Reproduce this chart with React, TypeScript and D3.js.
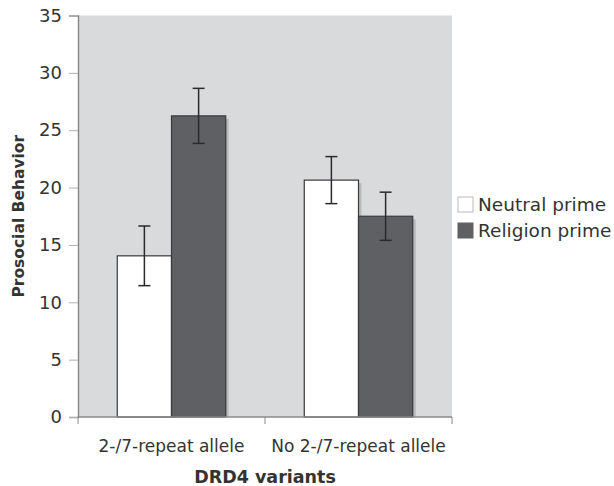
import React, { useRef, useEffect } from "react";
import * as d3 from "d3";

const categories = ["2-/7-repeat allele", "No 2-/7-repeat allele"];
const seriesNames = ["Neutral prime", "Religion prime"];
const seriesColors = ["#ffffff", "#5f6064"];
const neutralValues = [14.05, 20.65];
const religionValues = [26.25, 17.5];
const neutralErrors = [2.6, 2.05];
const religionErrors = [2.4, 2.1];
const yTicks = [0, 5, 10, 15, 20, 25, 30, 35];

const App = () => {
  const ref = useRef<SVGSVGElement>(null);

  useEffect(() => {
    const svg = d3.select(ref.current);
    svg.selectAll("*").remove();

    const margin = { top: 15.5, right: 162, bottom: 69, left: 78 };
    const width = 614 - margin.left - margin.right;
    const height = 486 - margin.top - margin.bottom;
    const font = "Verdana, 'DejaVu Sans', sans-serif";

    const g = svg
      .append("g")
      .attr("transform", `translate(${margin.left},${margin.top})`);

    const x0 = d3.scaleBand().domain(categories).range([0, width]).paddingInner(0.42).paddingOuter(0.21);
    const x1 = d3.scaleBand().domain(seriesNames).range([0, x0.bandwidth()]);
    const y = d3.scaleLinear().domain([0, 35]).range([height, 0]);

    g.append("rect")
      .attr("width", width)
      .attr("height", height)
      .attr("fill", "#d9dadc");

    const data = categories.map((c, i) => ({
      cat: c,
      vals: [
        { s: seriesNames[0], v: neutralValues[i], e: neutralErrors[i], c: seriesColors[0] },
        { s: seriesNames[1], v: religionValues[i], e: religionErrors[i], c: seriesColors[1] },
      ],
    }));

    const groups = g
      .selectAll(".grp")
      .data(data)
      .enter()
      .append("g")
      .attr("transform", (d) => `translate(${x0(d.cat)},0)`);

    // shadows
    groups
      .selectAll(".shadow")
      .data((d) => d.vals)
      .enter()
      .append("rect")
      .attr("x", (d) => x1(d.s)! + 3)
      .attr("y", (d) => y(d.v) + 3)
      .attr("width", x1.bandwidth())
      .attr("height", (d) => height - y(d.v) - 3)
      .attr("fill", "#b9babc");

    groups
      .selectAll(".bar")
      .data((d) => d.vals)
      .enter()
      .append("rect")
      .attr("x", (d) => x1(d.s)!)
      .attr("y", (d) => y(d.v))
      .attr("width", x1.bandwidth())
      .attr("height", (d) => height - y(d.v))
      .attr("fill", (d) => d.c)
      .attr("stroke", "#3a3a3c")
      .attr("stroke-width", 1.2);

    const err = groups
      .selectAll(".err")
      .data((d) => d.vals)
      .enter()
      .append("g")
      .attr("stroke", "#2a2a2c")
      .attr("stroke-width", 1.5);
    const cx = (d: any) => x1(d.s)! + x1.bandwidth() / 2;
    err.append("line")
      .attr("x1", cx).attr("x2", cx)
      .attr("y1", (d) => y(d.v + d.e)).attr("y2", (d) => y(d.v - d.e));
    err.append("line")
      .attr("x1", (d) => cx(d) - 6).attr("x2", (d) => cx(d) + 6)
      .attr("y1", (d) => y(d.v + d.e)).attr("y2", (d) => y(d.v + d.e));
    err.append("line")
      .attr("x1", (d) => cx(d) - 6).attr("x2", (d) => cx(d) + 6)
      .attr("y1", (d) => y(d.v - d.e)).attr("y2", (d) => y(d.v - d.e));

    // y axis
    const yAxis = g.append("g").call(d3.axisLeft(y).tickValues(yTicks).tickSize(9).tickPadding(7));
    yAxis.select(".domain").attr("stroke", "#8a8a8a").attr("stroke-width", 1.5);
    yAxis.selectAll(".tick line").attr("stroke", "#b0b0b0");
    yAxis.selectAll("text").attr("fill", "#333").style("font-size", "18px").style("font-family", font);

    // x axis
    const xg = g.append("g").attr("transform", `translate(0,${height})`);
    xg.append("line").attr("x1", 0).attr("x2", width).attr("stroke", "#8a8a8a").attr("stroke-width", 1.5);
    [0, width / 2, width].forEach((t) => {
      xg.append("line").attr("x1", t).attr("x2", t).attr("y1", 0).attr("y2", 7).attr("stroke", "#8a8a8a");
    });
    xg.selectAll(".cat")
      .data(categories)
      .enter()
      .append("text")
      .attr("x", (d) => x0(d)! + x0.bandwidth() / 2)
      .attr("y", 35)
      .attr("text-anchor", "middle")
      .attr("fill", "#333")
      .style("font-size", "17px")
      .style("font-family", font)
      .text((d) => d);

    g.append("text")
      .attr("x", width / 2)
      .attr("y", height + 66)
      .attr("text-anchor", "middle")
      .attr("fill", "#333")
      .style("font-size", "17.5px")
      .style("font-weight", "bold")
      .style("font-family", font)
      .text("DRD4 variants");

    g.append("text")
      .attr("transform", `translate(-54,${height / 2}) rotate(-90)`)
      .attr("text-anchor", "middle")
      .attr("fill", "#333")
      .style("font-size", "15.5px")
      .style("font-weight", "bold")
      .style("font-family", font)
      .text("Prosocial Behavior");

    // legend
    const legend = svg.append("g").attr("transform", "translate(458,197)");
    seriesNames.forEach((s, i) => {
      legend.append("rect")
        .attr("x", 0).attr("y", i * 26)
        .attr("width", 15).attr("height", 15)
        .attr("fill", seriesColors[i])
        .attr("stroke", i === 0 ? "#bbb" : "#5f6064");
      legend.append("text")
        .attr("x", 20).attr("y", i * 26 + 7.5)
        .attr("dy", "0.35em")
        .attr("fill", "#333")
        .style("font-size", "18.5px")
        .style("font-family", font)
        .text(s);
    });
  }, []);

  return <svg ref={ref} width={614} height={486} style={{ position: "absolute", left: 0, top: 0 }} />;
};

export default App;
